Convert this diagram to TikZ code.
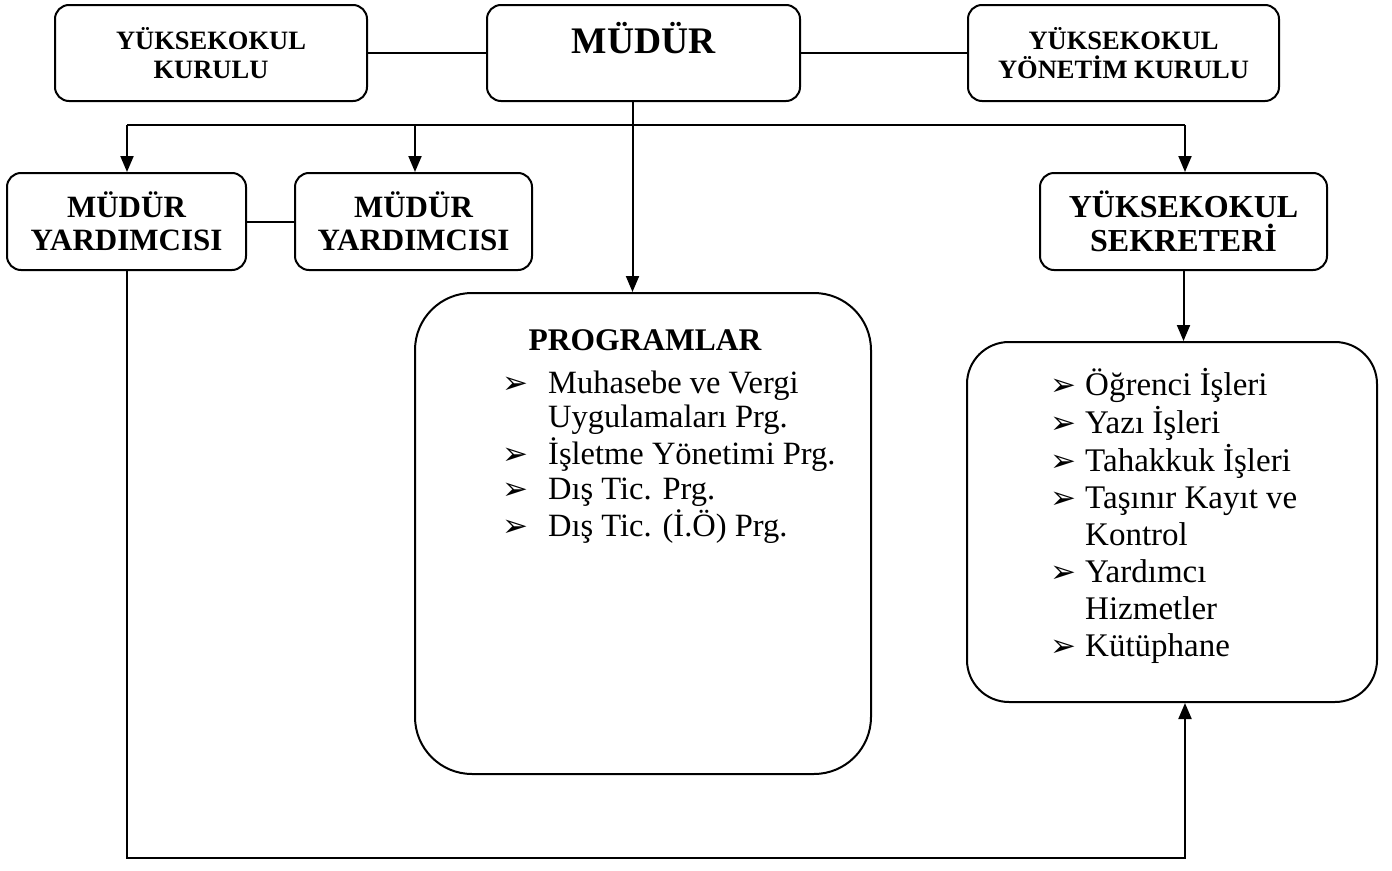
\documentclass[tikz,border=0pt]{standalone}
\usepackage{fontspec}
\setmainfont{Liberation Serif}
\newfontfamily\symfont{DejaVu Sans}
\usetikzlibrary{positioning,arrows.meta}
\tikzset{>={Triangle[width=13pt,length=16pt]}}
\tikzset{
  box/.style={draw, line width=2pt, rounded corners=14pt, align=center, inner sep=0pt},
  smallhead/.style={font=\fontsize{26.5}{28.5}\selectfont\bfseries},
  midhead/.style={font=\fontsize{31}{33}\selectfont\bfseries},
  link/.style={line width=2pt},
  arr/.style={->, line width=2pt},
}
\newcommand{\blt}[1]{\makebox[#1][l]{\symfont\fontsize{31}{31}\selectfont ➢}}

\begin{document}
\begin{tikzpicture}[x=1pt,y=-1pt]
\useasboundingbox (0,0) rectangle (1392,870);
% top row
\node[box,smallhead,minimum width=312pt,minimum height=96pt] (kurul) at (211,53) {YÜKSEKOKUL\\KURULU};
\node[box,font=\fontsize{37.5}{40}\selectfont\bfseries,minimum width=313pt,minimum height=96pt,
  text height=30pt,text depth=30pt] (mudur) at (643.5,53) {MÜDÜR};
\node[box,smallhead,minimum width=311pt,minimum height=96pt] (yonetim) at (1123.5,53) {YÜKSEKOKUL\\YÖNETİM KURULU};
\draw[link] (kurul) -- (mudur);
\draw[link] (mudur) -- (yonetim);
% second row
\node[box,midhead,minimum width=239pt,minimum height=97pt] (my1) at (126.5,221.5) {MÜDÜR\\YARDIMCISI};
\node[box,midhead,minimum width=237pt,minimum height=97pt] (my2) at (413.5,221.5) {MÜDÜR\\YARDIMCISI};
\node[box,font=\fontsize{32}{34}\selectfont\bfseries,minimum width=287pt,minimum height=97pt] (sek) at (1183.5,221.5) {YÜKSEKOKUL\\SEKRETERİ};
\draw[link] (my1) -- (my2);
% big boxes
\node[box,rounded corners=57pt,minimum width=456pt,minimum height=481pt] (prg) at (643,533.5) {};
\node[box,rounded corners=42pt,minimum width=410pt,minimum height=360pt] (lst) at (1172,522) {};
\node[font=\fontsize{31.5}{34}\selectfont\bfseries,anchor=base] (prgtitle) at (645,350) {PROGRAMLAR};
\node[anchor=base west,inner sep=0pt,font=\fontsize{32.5}{34.75}\selectfont] (prglist) at (502,393) {%
  \begin{tabular}[t]{@{}l@{}}
  \blt{46pt}Muhasebe ve Vergi\\
  \hspace*{46pt}Uygulamaları Prg.\\
  \blt{46pt}İşletme Yönetimi Prg.\\
  \blt{46pt}Dış Tic. Prg.\\
  \blt{46pt}Dış Tic. (İ.Ö) Prg.
  \end{tabular}};
\node[anchor=base west,inner sep=0pt,font=\fontsize{33}{36.9}\selectfont] (lstitems) at (1050,395) {%
  \begin{tabular}[t]{@{}l@{}}
  \blt{35pt}Öğrenci İşleri\\
  \blt{35pt}Yazı İşleri\\
  \blt{35pt}Tahakkuk İşleri\\
  \blt{35pt}Taşınır Kayıt ve\\
  \hspace*{35pt}Kontrol\\
  \blt{35pt}Yardımcı\\
  \hspace*{35pt}Hizmetler\\
  \blt{35pt}Kütüphane
  \end{tabular}};
% connectors
\coordinate (busL) at (127,125);
\coordinate (busM) at (415,125);
\coordinate (busR) at (1185,125);
\coordinate (loopR) at (1185,858);
\draw[link] (busL) -- (busR);
\draw[arr] (busL) -- (busL |- my1.north);
\draw[arr] (busM) -- (busM |- my2.north);
\draw[arr] (busR) -- (busR |- sek.north);
\draw[arr] ([xshift=-11pt]mudur.south) -- ([xshift=-11pt]mudur.south |- prg.north);
\draw[arr] (sek.south) -- (sek.south |- lst.north);
\draw[arr] (my1.south) |- (loopR) -- (loopR |- lst.south);
\end{tikzpicture}
\end{document}
